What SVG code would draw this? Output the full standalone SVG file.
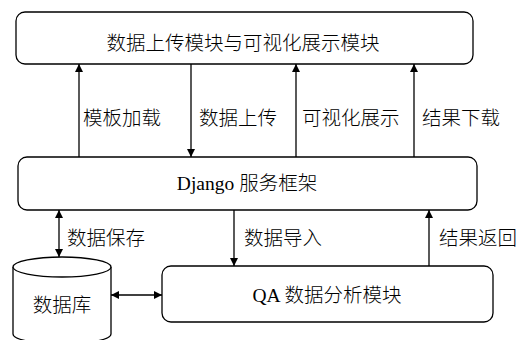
<svg xmlns="http://www.w3.org/2000/svg" width="517" height="340" viewBox="0 0 517 340">
<style>
.box{fill:#fff;stroke:#000;stroke-width:1.3}
.ln{stroke:#000;stroke-width:1.3;fill:none}
text{font-family:"Liberation Serif","Noto Sans CJK SC",serif;font-size:19.5px;font-weight:300;fill:#000}
.c{text-anchor:middle}
</style>
<defs>
<marker id="ah" viewBox="0 0 10 10" refX="10" refY="5" markerWidth="8" markerHeight="10" markerUnits="userSpaceOnUse" orient="auto-start-reverse">
<path d="M0,0 L10,5 L0,10 Z" fill="#000"/>
</marker>
</defs>
<rect width="517" height="340" fill="#fff"/>
<g id="top"><rect class="box" x="16" y="12" width="457" height="52" rx="9"/><text class="c" x="243" y="50">数据上传模块与可视化展示模块</text></g>
<g id="django"><rect class="box" x="18" y="157" width="459" height="53" rx="9"/><text class="c" x="247" y="190">Django 服务框架</text></g>
<g id="qa"><rect class="box" x="162" y="266" width="331" height="56" rx="9"/><text class="c" x="327" y="302">QA 数据分析模块</text></g>
<g id="db"><path class="box" d="M13,267 L13,334 A49,10 0 0 0 111,334 L111,267"/><ellipse class="box" cx="62" cy="267" rx="49" ry="10"/><text class="c" x="62" y="312">数据库</text></g>
<g id="connectors">
<line class="ln" x1="79" y1="157" x2="79" y2="64" marker-end="url(#ah)"/>
<line class="ln" x1="191" y1="64" x2="191" y2="157" marker-end="url(#ah)"/>
<line class="ln" x1="296" y1="157" x2="296" y2="64" marker-end="url(#ah)"/>
<line class="ln" x1="414" y1="157" x2="414" y2="64" marker-end="url(#ah)"/>
<line class="ln" x1="59" y1="210" x2="59" y2="257" marker-start="url(#ah)" marker-end="url(#ah)"/>
<line class="ln" x1="234" y1="210" x2="234" y2="266" marker-end="url(#ah)"/>
<line class="ln" x1="429" y1="266" x2="429" y2="210" marker-end="url(#ah)"/>
<line class="ln" x1="111" y1="295" x2="162" y2="295" marker-start="url(#ah)" marker-end="url(#ah)"/>
<text x="83" y="125">模板加载</text>
<text x="199" y="125">数据上传</text>
<text x="302" y="125">可视化展示</text>
<text x="422" y="125">结果下载</text>
<text x="67" y="245">数据保存</text>
<text x="244" y="245">数据导入</text>
<text x="439" y="245">结果返回</text>
</g>
</svg>
